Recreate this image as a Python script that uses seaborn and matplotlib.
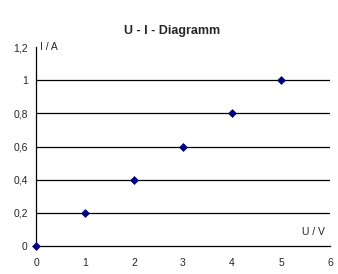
import matplotlib
matplotlib.use("Agg")
import matplotlib.pyplot as plt
import seaborn as sns
import pandas as pd

U = [0, 1, 2, 3, 4, 5]
I = [0, 0.2, 0.4, 0.6, 0.8, 1.0]
xticks = [0, 1, 2, 3, 4, 5, 6]
yticks = [0, 0.2, 0.4, 0.6, 0.8, 1.0, 1.2]
ytick_labels = ["0", "0,2", "0,4", "0,6", "0,8", "1", "1,2"]
title = "U - I - Diagramm"

sns.set_style("white")
plt.rcParams['font.family'] = ['Liberation Sans', 'DejaVu Sans']

df = pd.DataFrame({"U": U, "I": I})
fig = plt.figure(figsize=(3.38, 2.74), dpi=100)
ax = fig.add_axes([36/338, 28/274, 294/338, 199/274])
sns.scatterplot(data=df, x="U", y="I", ax=ax, marker="D", s=16, color="#000080",
                edgecolor="#000080", linewidth=0.5, zorder=5, clip_on=False)
ax.set_xlim(0, 6)
ax.set_ylim(0, 1.2)
ax.set_xticks(xticks)
ax.set_xticklabels([str(x) for x in xticks])
ax.set_yticks(yticks)
ax.set_yticklabels(ytick_labels)
ax.set_xlabel("")
ax.set_ylabel("")
for y in yticks[1:-1]:
    ax.axhline(y, color="black", linewidth=0.9, zorder=1)
for s in ["top", "right"]:
    ax.spines[s].set_visible(False)
for s in ["left", "bottom"]:
    ax.spines[s].set_color("black")
    ax.spines[s].set_linewidth(0.9)
ax.tick_params(axis="both", direction="out", length=3, width=0.9, color="black",
               labelsize=7.5, pad=3)
ax.tick_params(axis="x", pad=6)
ax.text(0.09, 1.2, "I / A", fontsize=7.5, ha="left", va="center")
ax.text(5.9, 0.055, "U / V", fontsize=7.5, ha="right", va="bottom")
fig.text(0.51, 1 - 31/274, title, fontsize=9, fontweight="bold", ha="center", va="center")
fig.savefig("out.png", dpi=100)
